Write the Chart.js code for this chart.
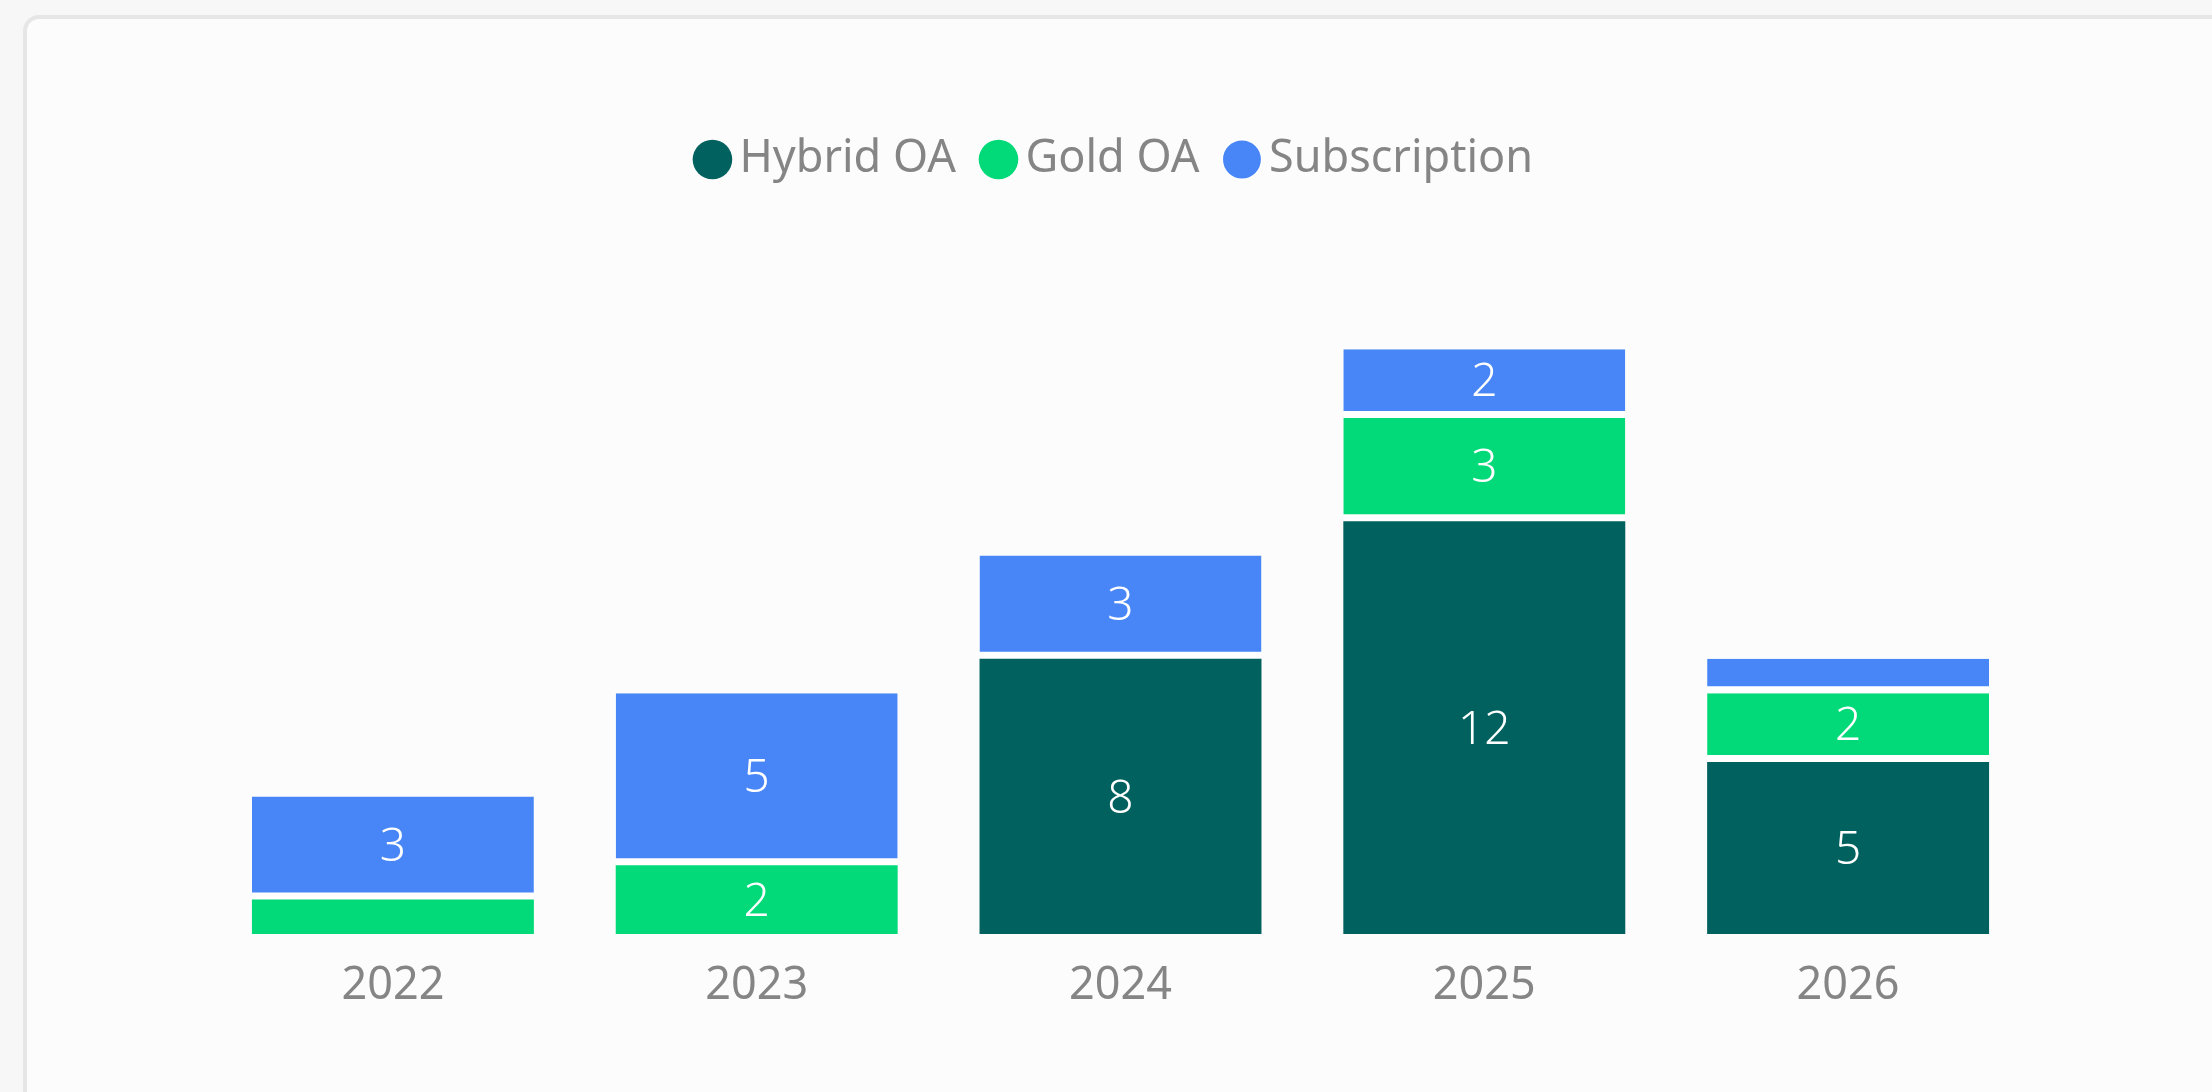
<!DOCTYPE html>
<html>
<head>
<meta charset="utf-8">
<title>OA mix by year</title>
<script src="https://cdn.jsdelivr.net/npm/chart.js@4.4.1/dist/chart.umd.min.js"></script>
<style>
    html, body { margin: 0; padding: 0; background: #f7f7f7; overflow: hidden; }
    .card {
        position: absolute; left: 23px; top: 15px;
        width: 2200px; height: 1100px;
        border: 4px solid #e6e6e6; border-radius: 16px;
        background: #fcfcfc;
    }
    #wrap { position: absolute; left: 0; top: 0; width: 2212px; height: 1092px; }
</style>
</head>
<body>
<div class="card"></div>
<div id="wrap"><canvas id="oaChart"></canvas></div>
<script>
// data
const years = ['2022', '2023', '2024', '2025', '2026'];
const hybridOA = [0, 0, 8, 12, 5];
const goldOA = [1, 2, 0, 3, 2];
const subscription = [3, 5, 3, 2, 1];

const seriesNames = ['Hybrid OA', 'Gold OA', 'Subscription'];
const seriesColors = ['#01615f', '#02d978', '#4886f8'];

const GAP = 7;
const FONT = "'Noto Sans', 'Open Sans', sans-serif";

// white gap under a segment only if something sits below it in the stack
function belowSum(chart, dsIndex, i) {
    let s = 0;
    for (let d = 0; d < dsIndex; d++) s += chart.data.datasets[d].data[i] || 0;
    return s;
}

function gapWidth(ctx) {
    const below = belowSum(ctx.chart, ctx.datasetIndex, ctx.dataIndex);
    return { top: 0, left: 0, right: 0, bottom: below > 0 ? GAP : 0 };
}

// labels inside the segments
const segmentLabels = {
    id: 'segmentLabels',
    afterDatasetsDraw(chart) {
        const ctx = chart.ctx;
        ctx.save();
        ctx.fillStyle = '#ffffff';
        ctx.font = '300 46px ' + FONT;
        ctx.textAlign = 'center';
        ctx.textBaseline = 'middle';
        chart.data.datasets.forEach(function(ds, d) {
            const meta = chart.getDatasetMeta(d);
            meta.data.forEach(function(bar, i) {
                const v = ds.data[i];
                if (!v || v < 2) return;
                const cut = belowSum(chart, d, i) > 0 ? GAP : 0;
                const cy = (bar.y + bar.base - cut) / 2 + 3;
                ctx.fillText(String(v), bar.x, cy);
            });
        });
        ctx.restore();
    }
};

// extra room between legend and plot
const legendSpace = {
    id: 'legendSpace',
    beforeInit(chart) {
        const fit = chart.legend.fit;
        chart.legend.fit = function() {
            fit.call(this);
            this.height += 54;
        };
    }
};

const datasets = [hybridOA, goldOA, subscription].map(function(vals, k) {
    return {
        label: seriesNames[k],
        data: vals,
        backgroundColor: seriesColors[k],
        borderColor: '#ffffff',
        borderWidth: gapWidth,
        borderSkipped: false,
        inflateAmount: 0,
        categoryPercentage: 1,
        barPercentage: 0.775
    };
});

new Chart(document.getElementById('oaChart'), {
    type: 'bar',
    data: { labels: years, datasets: datasets },
    options: {
        responsive: true,
        maintainAspectRatio: false,
        animation: false,
        devicePixelRatio: 1,
        layout: { padding: { top: 99, left: 211, right: 182, bottom: 54 } },
        plugins: {
            legend: {
                position: 'top',
                labels: {
                    usePointStyle: true,
                    pointStyle: 'circle',
                    boxWidth: 9,
                    boxHeight: 28,
                    padding: 38,
                    color: '#858585',
                    font: { family: FONT, size: 45 }
                }
            },
            tooltip: { enabled: false }
        },
        scales: {
            x: {
                stacked: true,
                grid: { display: false, drawTicks: false },
                border: { display: false },
                ticks: {
                    color: '#858585',
                    padding: 25,
                    font: { family: FONT, size: 45 }
                }
            },
            y: {
                stacked: true,
                display: false,
                min: 0,
                max: 20
            }
        }
    },
    plugins: [segmentLabels, legendSpace]
});
</script>
</body>
</html>
